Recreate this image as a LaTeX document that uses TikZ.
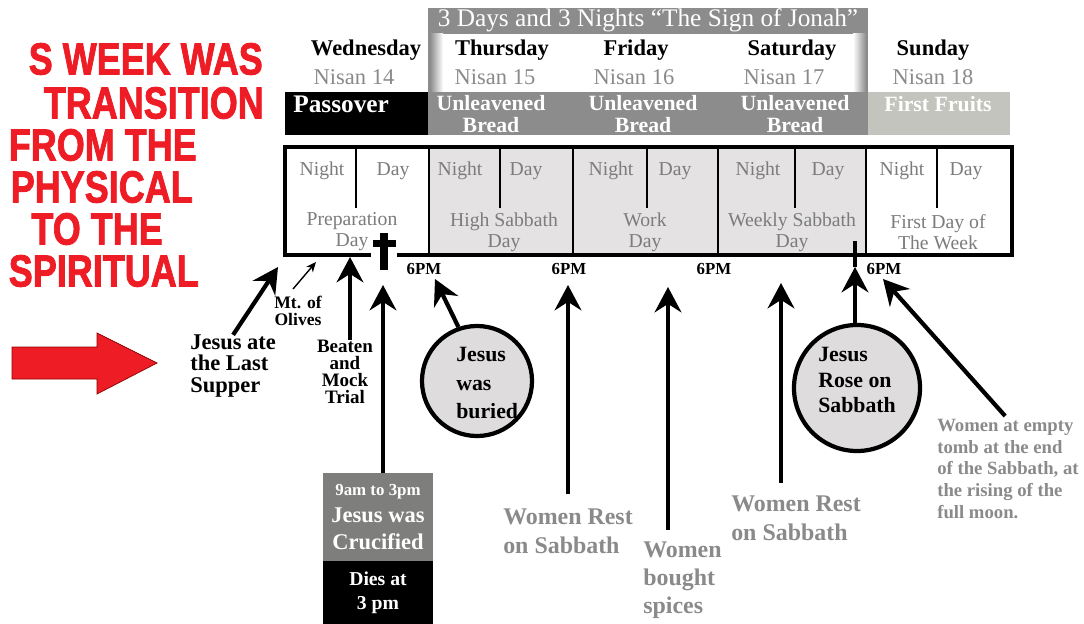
\documentclass[tikz,border=0pt]{standalone}
\usepackage{fontspec}
\setmainfont{Liberation Serif}
\newfontfamily\bannerfont[BoldFeatures={FakeBold=2}]{Liberation Sans}
\usetikzlibrary{arrows.meta}
\definecolor{bandgray}{HTML}{8C8C8C}
\definecolor{fruitgray}{HTML}{C4C4BE}
\definecolor{cellgray}{HTML}{E4E2E2}
\definecolor{discgray}{HTML}{DEDCDC}
\definecolor{labelgray}{HTML}{7C7C7C}
\definecolor{womengray}{HTML}{8A8A8A}
\definecolor{crossgray}{HTML}{7E7E7C}
\definecolor{bannerred}{HTML}{EE1C25}
\begin{document}
\begin{tikzpicture}[x=0.025cm,y=-0.025cm,
 dayname/.style={font=\bfseries\fontsize{16}{18}\selectfont,inner sep=0},
 nisan/.style={text=womengray,font=\fontsize{16}{18}\selectfont,inner sep=0},
 feast/.style={text=white,font=\bfseries\fontsize{15.5}{15}\selectfont,align=center,inner sep=0},
 half/.style={text=labelgray,font=\fontsize{14}{15}\selectfont,inner sep=0},
 daylbl/.style={text=labelgray,font=\fontsize{14}{15}\selectfont,align=center,inner sep=0},
 pm/.style={font=\bfseries\fontsize{12}{12}\selectfont,inner sep=0},
 note/.style={font=\bfseries\fontsize{16}{15}\selectfont,align=left,inner sep=0},
 women/.style={text=womengray,font=\bfseries\fontsize{17}{20.5}\selectfont,align=left,inner sep=0,anchor=west},
 disc/.style={circle,draw,line width=3pt,fill=discgray,inner sep=0},
 bigarrow/.style={line width=3pt,-{Stealth[length=18pt,width=19pt,inset=6pt]}},
 smallarrow/.style={line width=1pt,-{Stealth[length=7pt,width=6pt,inset=2pt]}},
 banner/.style={text=bannerred,font=\bannerfont\bfseries\fontsize{32}{32}\selectfont,anchor=east,inner sep=0,xscale=0.8}
]
 \useasboundingbox (0,0) rectangle (1084,624);
 \fill[white] (0,0) rectangle (1084,624);

 \node[banner] (line1) at (263,59) {S WEEK WAS};
 \node[banner] (line2) at (264,103) {TRANSITION};
 \node[banner] (line3) at (197,145) {FROM THE};
 \node[banner] (line4) at (193,187) {PHYSICAL};
 \node[banner] (line5) at (163,229) {TO THE};
 \node[banner] (line6) at (199,271) {SPIRITUAL};
 \draw[fill=bannerred,draw=red!55!black,line width=0.5pt] (12,347)--(97,347)--(97,333)--(157,363)--(97,394)--(97,379)--(12,379)--cycle;

 \fill[bandgray] (428,8) rectangle (868,135);
 \fill[white] (442,34) rectangle (854,92);
 \shade[left color=bandgray,right color=white] (430,34) rectangle (443,92);
 \shade[left color=white,right color=bandgray] (853,34) rectangle (866,92);
 \node[text=white,font=\fontsize{18}{18}\selectfont,inner sep=0] (jonah) at (648,20) {3 Days and 3 Nights “The Sign of Jonah”};
 \fill[black] (285,92) rectangle (428,135);
 \fill[fruitgray] (868,92) rectangle (1010,135);

 \node[dayname] (wed) at (366,50) {Wednesday};
 \node[dayname] (thu) at (502,50) {Thursday};
 \node[dayname] (fri) at (636,50) {Friday};
 \node[dayname] (sat) at (792,50) {Saturday};
 \node[dayname] (sun) at (933,50) {Sunday};
 \node[nisan] (n14) at (354,77) {Nisan 14};
 \node[nisan] (n15) at (495,77) {Nisan 15};
 \node[nisan] (n16) at (634,77) {Nisan 16};
 \node[nisan] (n17) at (784,77) {Nisan 17};
 \node[nisan] (n18) at (933,77) {Nisan 18};
 \node[text=white,font=\bfseries\fontsize{18}{18}\selectfont,anchor=west,inner sep=0] (passover) at (293,104) {Passover};
 \node[feast] (bread1) at (491,114) {Unleavened\\Bread};
 \node[feast] (bread2) at (643,114) {Unleavened\\Bread};
 \node[feast] (bread3) at (795,114) {Unleavened\\Bread};
 \node[feast] (fruits) at (938,104) {First Fruits};

 \fill[white] (285,147) rectangle (1012,255);
 \fill[cellgray] (429,147) rectangle (866,255);
 \draw[line width=2.2pt] (371,255)--(285,255)--(285,147)--(1012,147)--(1012,255)--(397,255);
 \draw[line width=2pt] (429,147)--(429,255);
 \draw[line width=2pt] (573,147)--(573,255);
 \draw[line width=2pt] (718,147)--(718,255);
 \draw[line width=2pt] (866,147)--(866,255);
 \draw[line width=1.6pt] (356,147)--(356,208);
 \draw[line width=1.6pt] (500,147)--(500,208);
 \draw[line width=1.6pt] (647,147)--(647,208);
 \draw[line width=1.6pt] (795,147)--(795,208);
 \draw[line width=1.6pt] (937,147)--(937,208);
 \fill[black] (380,233) rectangle (388,270);
 \fill[black] (373,240) rectangle (396,247);

 \node[half] (night1) at (322,171) {Night};
 \node[half] (day1) at (393,171) {Day};
 \node[half] (night2) at (460,171) {Night};
 \node[half] (day2) at (526,171) {Day};
 \node[half] (night3) at (611,171) {Night};
 \node[half] (day3) at (675,171) {Day};
 \node[half] (night4) at (758,171) {Night};
 \node[half] (day4) at (828,171) {Day};
 \node[half] (night5) at (902,171) {Night};
 \node[half] (day5) at (966,171) {Day};
 \node[daylbl] (prep) at (352,232) {Preparation\\Day};
 \node[daylbl] (high) at (504,232) {High Sabbath\\Day};
 \node[daylbl] (work) at (645,232) {Work\\Day};
 \node[daylbl] (weekly) at (792,232) {Weekly Sabbath\\Day};
 \node[daylbl] (first) at (938,232) {First Day of\\The Week};

 \node[pm] (pm1) at (424,269) {6PM};
 \node[pm] (pm2) at (569,269) {6PM};
 \node[pm] (pm3) at (714,269) {6PM};
 \node[pm] (pm4) at (884,269) {6PM};

 \coordinate (tsupper) at (278,267);
 \coordinate (tolives) at (316,262);
 \coordinate (ttrial) at (350,257);
 \coordinate (tcross) at (383,285);
 \coordinate (tburied) at (435,279);
 \coordinate (trest) at (568,285);
 \coordinate (tspices) at (668,287);
 \coordinate (tsabbath) at (781,283);
 \coordinate (trose) at (855,267);
 \coordinate (stub) at (855,241);
 \coordinate (ttomb) at (883,279);

 \node[note,anchor=west] (supper) at (190,366) {Jesus ate\\the Last\\Supper};
 \node[font=\bfseries\fontsize{12.5}{12}\selectfont,align=center,inner sep=0] (olives) at (298,311) {Mt. of\\Olives};
 \node[font=\bfseries\fontsize{13.5}{12}\selectfont,align=center,inner sep=0] (trial) at (345,372) {Beaten\\and\\Mock\\Trial};
 \node[fill=crossgray,text=white,minimum width=2.75cm,minimum height=2.2cm,align=center,inner sep=0,font=\bfseries\fontsize{16}{19}\selectfont] (crucified) at (378,517) {{\fontsize{12}{12}\selectfont 9am to 3pm}\\Jesus was\\Crucified};
 \node[fill=black,text=white,minimum width=2.75cm,minimum height=1.575cm,align=center,inner sep=0,font=\bfseries\fontsize{14}{17}\selectfont] (dies) at (378,592.5) {Dies at\\3 pm};
 \node[disc,minimum size=2.75cm] (buried) at (477,381) {};
 \node[note,anchor=west,font=\bfseries\fontsize{15.5}{20}\selectfont] (buriedtext) at (456,383) {Jesus\\was\\buried};
 \node[disc,minimum size=3.15cm] (rose) at (857,388) {};
 \node[note,anchor=west,font=\bfseries\fontsize{15.5}{18}\selectfont] (rosetext) at (818,380) {Jesus\\Rose on\\Sabbath};
 \node[women] (rest1) at (503,531) {Women Rest\\on Sabbath};
 \node[women,font=\bfseries\fontsize{17}{20}\selectfont] (spices) at (643,580) {Women\\bought\\spices};
 \node[women] (rest2) at (731,518) {Women Rest\\on Sabbath};
 \node[women,font=\bfseries\fontsize{13.3}{15.4}\selectfont] (tomb) at (937,469) {Women at empty\\tomb at the end\\of the Sabbath, at\\the rising of the\\full moon.};

 \draw[bigarrow] (supper.north) -- (tsupper);
 \draw[smallarrow] (olives.north) ++(-5,-7) -- (tolives);
 \draw[bigarrow] (trial.north -| ttrial) -- (ttrial);
 \draw[bigarrow] (crucified.north -| tcross) -- (tcross);
 \draw[bigarrow] (buried.109) -- (tburied);
 \draw[bigarrow,shorten <=10pt] (rest1.north -| trest) -- (trest);
 \draw[bigarrow,shorten <=8pt] (spices.north -| tspices) -- (tspices);
 \draw[bigarrow,shorten <=9pt] (rest2.north -| tsabbath) -- (tsabbath);
 \draw[line width=3pt] (trose) -- (stub);
 \draw[bigarrow] (rose.north -| trose) -- (trose);
 \draw[bigarrow,shorten <=3pt] (tomb.north) -- (ttomb);
\end{tikzpicture}
\end{document}
